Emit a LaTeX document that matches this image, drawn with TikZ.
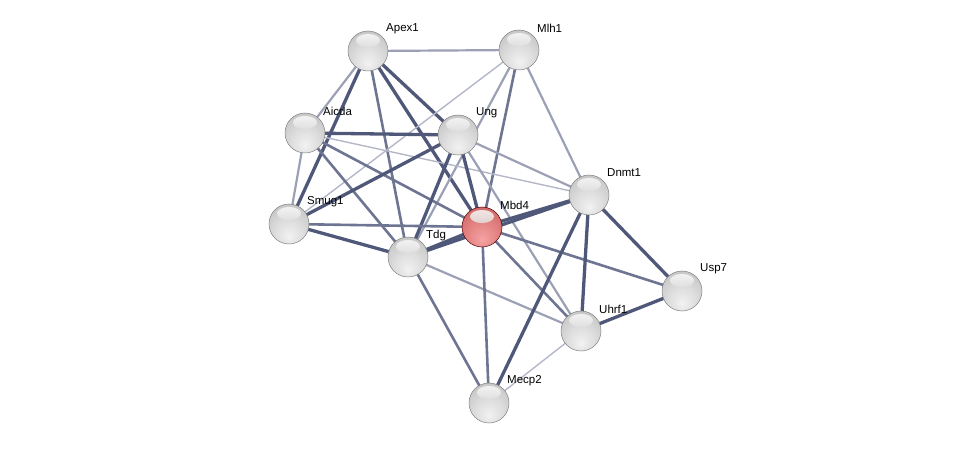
\documentclass[tikz,border=0pt]{standalone}
\usepackage{fontspec}
\setmainfont{Liberation Sans}
\pgfdeclarelayer{background}
\pgfsetlayers{background,main}
\definecolor{gb0}{HTML}{F2F2F2}
\definecolor{gb1}{HTML}{DCDCDC}
\definecolor{gb2}{HTML}{BDBDBD}
\definecolor{gb3}{HTML}{858585}
\definecolor{rb0}{HTML}{F5A3A3}
\definecolor{rb1}{HTML}{E48484}
\definecolor{rb2}{HTML}{CC5E5E}
\definecolor{rb3}{HTML}{9A3434}
\pgfdeclareradialshading{stringball}{\pgfpoint{0bp}{-16bp}}{color(0bp)=(gb0); color(18bp)=(gb1); color(40bp)=(gb2); color(58bp)=(gb3); color(70bp)=(gb3)}
\pgfdeclareradialshading{redball}{\pgfpoint{0bp}{-16bp}}{color(0bp)=(rb0); color(18bp)=(rb1); color(40bp)=(rb2); color(58bp)=(rb3); color(70bp)=(rb3)}
\definecolor{edark}{HTML}{4F5878}
\definecolor{emid}{HTML}{6E7592}
\definecolor{elight}{HTML}{9BA0B5}
\definecolor{ethin}{HTML}{B4B7C7}
\tikzset{
  hilite/.style={path picture={\shade[top color=white, bottom color=white!70!black, opacity=0.85] ([yshift=10.5pt]path picture bounding box.center) ellipse (12pt and 6.5pt);}},
  prot/.style={circle, minimum size=40pt, inner sep=0pt, shading=stringball, draw=black!50, line width=0.5pt, hilite},
  protred/.style={prot, shading=redball, draw=red!30!black},
  lab/.style={anchor=west, font=\fontsize{11.5}{13}\selectfont, inner sep=0pt},
  thick/.style={draw=edark, line width=3.3pt},
  med/.style={draw=emid, line width=2.6pt},
  light/.style={draw=elight, line width=2.2pt},
  thinl/.style={draw=ethin, line width=1.4pt}
}
\begin{document}
\begin{tikzpicture}[x=1pt,y=-1pt]
\useasboundingbox (0,0) rectangle (975,449);
\node[prot] (apex1) at (368,51) {};
\node[prot] (mlh1) at (519,50) {};
\node[prot] (aicda) at (305,133) {};
\node[prot] (ung) at (458,135) {};
\node[prot] (smug1) at (289,224) {};
\node[prot] (tdg) at (408,257) {};
\node[protred] (mbd4) at (482,227) {};
\node[prot] (dnmt1) at (589,195) {};
\node[prot] (usp7) at (682,291) {};
\node[prot] (uhrf1) at (581,331) {};
\node[prot] (mecp2) at (489,403) {};
\node[lab] (lapex1) at (386,29) {Apex1};
\node[lab] (lmlh1) at (537,28) {Mlh1};
\node[lab] (laicda) at (323,111) {Aicda};
\node[lab] (lung) at (476,113) {Ung};
\node[lab] (lsmug1) at (307,202) {Smug1};
\node[lab] (ltdg) at (426,236) {Tdg};
\node[lab] (lmbd4) at (500,205) {Mbd4};
\node[lab] (ldnmt1) at (607,173) {Dnmt1};
\node[lab] (lusp7) at (700,269) {Usp7};
\node[lab] (luhrf1) at (599,309) {Uhrf1};
\node[lab] (lmecp2) at (507,381) {Mecp2};
\begin{pgfonlayer}{background}
\draw[light] (apex1.center) -- (mlh1.center);
\draw[light] (apex1.center) -- (aicda.center);
\draw[thick] (apex1.center) -- (smug1.center);
\draw[med] (apex1.center) -- (tdg.center);
\draw[thick] (apex1.center) -- (ung.center);
\draw[thick] (apex1.center) -- (mbd4.center);
\draw[thinl] (mlh1.center) -- (smug1.center);
\draw[light] (mlh1.center) -- (tdg.center);
\draw[med] (mlh1.center) -- (mbd4.center);
\draw[light] (mlh1.center) -- (dnmt1.center);
\draw[thick] (aicda.center) -- (ung.center);
\draw[light] (aicda.center) -- (smug1.center);
\draw[med] (aicda.center) -- (tdg.center);
\draw[med] (aicda.center) -- (mbd4.center);
\draw[thinl] (aicda.center) -- (dnmt1.center);
\draw[thick] (ung.center) -- (smug1.center);
\draw[thick] (ung.center) -- (tdg.center);
\draw[thick] (ung.center) -- (mbd4.center);
\draw[light] (ung.center) -- (dnmt1.center);
\draw[light] (ung.center) -- (uhrf1.center);
\draw[thick] (smug1.center) -- (tdg.center);
\draw[med] (smug1.center) -- (mbd4.center);
\draw[thick] (tdg.center) -- (mbd4.center);
\draw[thick] (tdg.center) -- (dnmt1.center);
\draw[thick] (mbd4.center) -- (dnmt1.center);
\draw[light] (tdg.center) -- (uhrf1.center);
\draw[med] (tdg.center) -- (mecp2.center);
\draw[med] (mbd4.center) -- (usp7.center);
\draw[med] (mbd4.center) -- (uhrf1.center);
\draw[med] (mbd4.center) -- (mecp2.center);
\draw[thick] (dnmt1.center) -- (usp7.center);
\draw[thick] (dnmt1.center) -- (uhrf1.center);
\draw[thick] (dnmt1.center) -- (mecp2.center);
\draw[thick] (uhrf1.center) -- (usp7.center);
\draw[thinl] (uhrf1.center) -- (mecp2.center);
\end{pgfonlayer}
\end{tikzpicture}
\end{document}
